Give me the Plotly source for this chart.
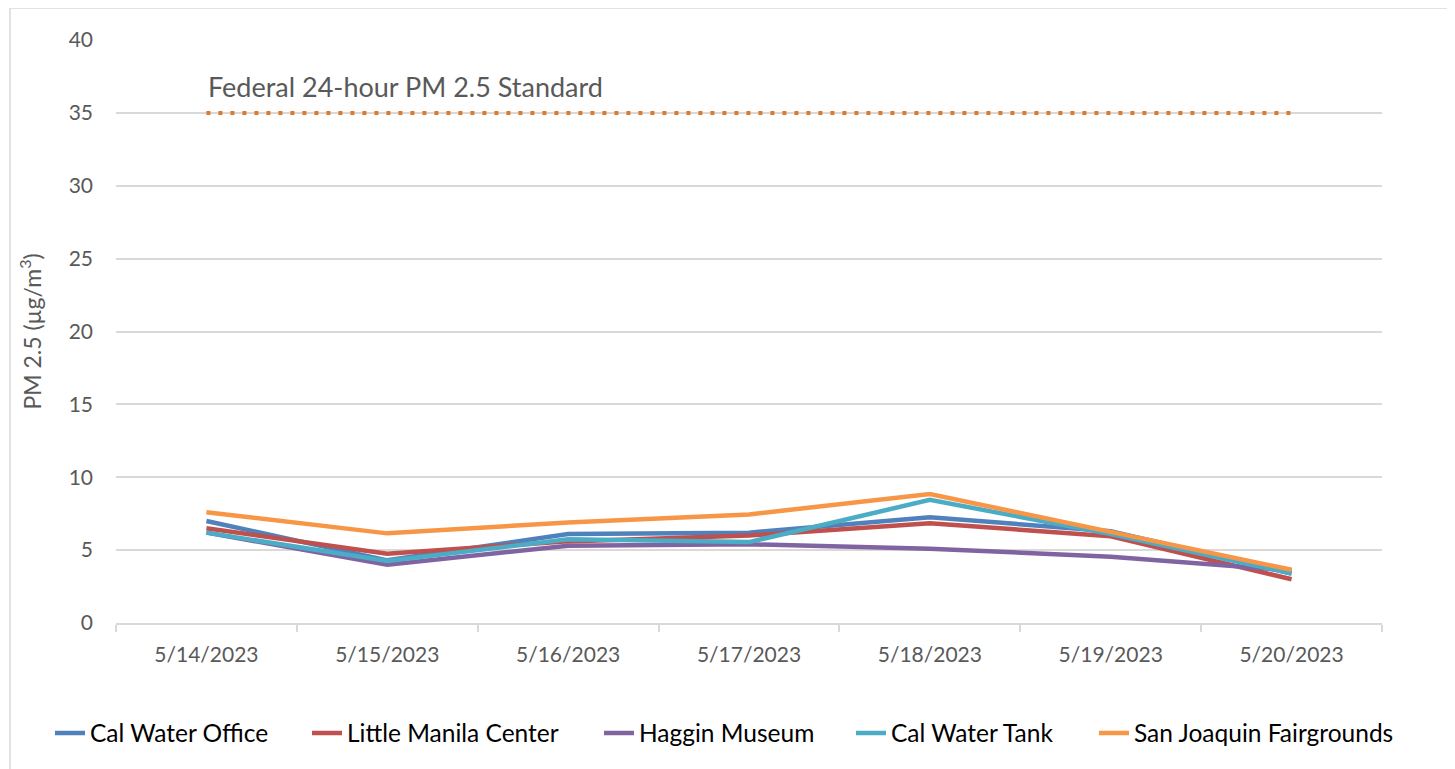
import plotly.graph_objects as go

dates = ["5/14/2023", "5/15/2023", "5/16/2023", "5/17/2023", "5/18/2023", "5/19/2023", "5/20/2023"]
cal_water_office = [7.0, 4.3, 6.1, 6.2, 7.25, 6.3, 3.4]
little_manila = [6.5, 4.75, 5.6, 6.0, 6.85, 5.95, 3.0]
haggin_museum = [6.2, 4.0, 5.3, 5.4, 5.1, 4.55, 3.6]
cal_water_tank = [6.2, 4.25, 5.75, 5.55, 8.45, 6.1, 3.4]
sj_fairgrounds = [7.6, 6.15, 6.9, 7.45, 8.85, 6.25, 3.65]
standard = [35] * 7

series = [
    ("Cal Water Office", cal_water_office, "#4F81BD"),
    ("Little Manila Center", little_manila, "#C0504D"),
    ("Haggin Museum", haggin_museum, "#8064A2"),
    ("Cal Water Tank", cal_water_tank, "#4BACC6"),
    ("San Joaquin Fairgrounds", sj_fairgrounds, "#F79646"),
]
legend_text_x = [90, 347, 639, 891, 1134]  # page x where each legend label starts

# page has an 8px body margin; plot area targeted at page x 116..1382, y 40..623
OFF = 8
PL, PR, PT, PB = 116, 1382, 40, 623
W, H = 1455 - OFF, 769 - OFF
pw, ph = PR - PL, PB - PT

fig = go.Figure()
fig.add_trace(go.Scatter(x=dates, y=standard, mode="lines", showlegend=False,
                         line=dict(color="#E0782A", width=4, dash="4px,8px"),
                         hoverinfo="skip"))
legends = {}
for i, (name, vals, color) in enumerate(series):
    lname = "legend" if i == 0 else f"legend{i + 1}"
    fig.add_trace(go.Scatter(x=dates, y=vals, mode="lines", name=name, legend=lname,
                             line=dict(color=color, width=4.5)))
    legends[lname] = dict(orientation="h", x=(legend_text_x[i] - 40 - OFF - PL + OFF) / pw,
                          xanchor="left", y=-(733 - PB) / ph, yanchor="middle",
                          font=dict(size=24.5, color="#000000", family="Lato"),
                          bgcolor="rgba(0,0,0,0)", borderwidth=0)

fig.add_annotation(x=dates[0], y=36.8, xref="x", yref="y", text="Federal 24-hour PM 2.5 Standard",
                   showarrow=False, xanchor="left", yanchor="middle", xshift=0,
                   font=dict(size=27, color="#595959", family="Lato"))

# outer chart border
fig.add_shape(type="rect", xref="paper", yref="paper",
              x0=(10 - PL) / pw, x1=(1448 - PL) / pw,
              y0=(PB - 800) / ph, y1=(PB - 8) / ph,
              line=dict(color="#D9D9D9", width=1.5), fillcolor="rgba(0,0,0,0)", layer="below")

fig.update_layout(
    width=W, height=H,
    margin=dict(l=PL - OFF, r=1455 - PR, t=PT - OFF, b=769 - PB, autoexpand=False),
    plot_bgcolor="white", paper_bgcolor="white",
    font=dict(family="Lato", color="#595959", size=16),
    xaxis=dict(type="category", showgrid=False, showline=True, linecolor="#D9D9D9", linewidth=1.5,
               ticks="outside", tickson="boundaries", ticklen=7, tickcolor="#D9D9D9", tickwidth=1.5,
               ticklabelstandoff=12,
               tickfont=dict(size=21, color="#595959"), range=[-0.5, 6.5]),
    yaxis=dict(range=[0, 40], dtick=5, showgrid=True, gridcolor="#D9D9D9", gridwidth=1.5,
               zeroline=False, showline=False, ticks="", ticklabelstandoff=22,
               tickfont=dict(size=21, color="#595959"),
               title=dict(text="PM 2.5 (µg/m<sup>3</sup>)", font=dict(size=23, color="#595959"), standoff=20)),
    **legends,
)

fig.write_html("out.html")
